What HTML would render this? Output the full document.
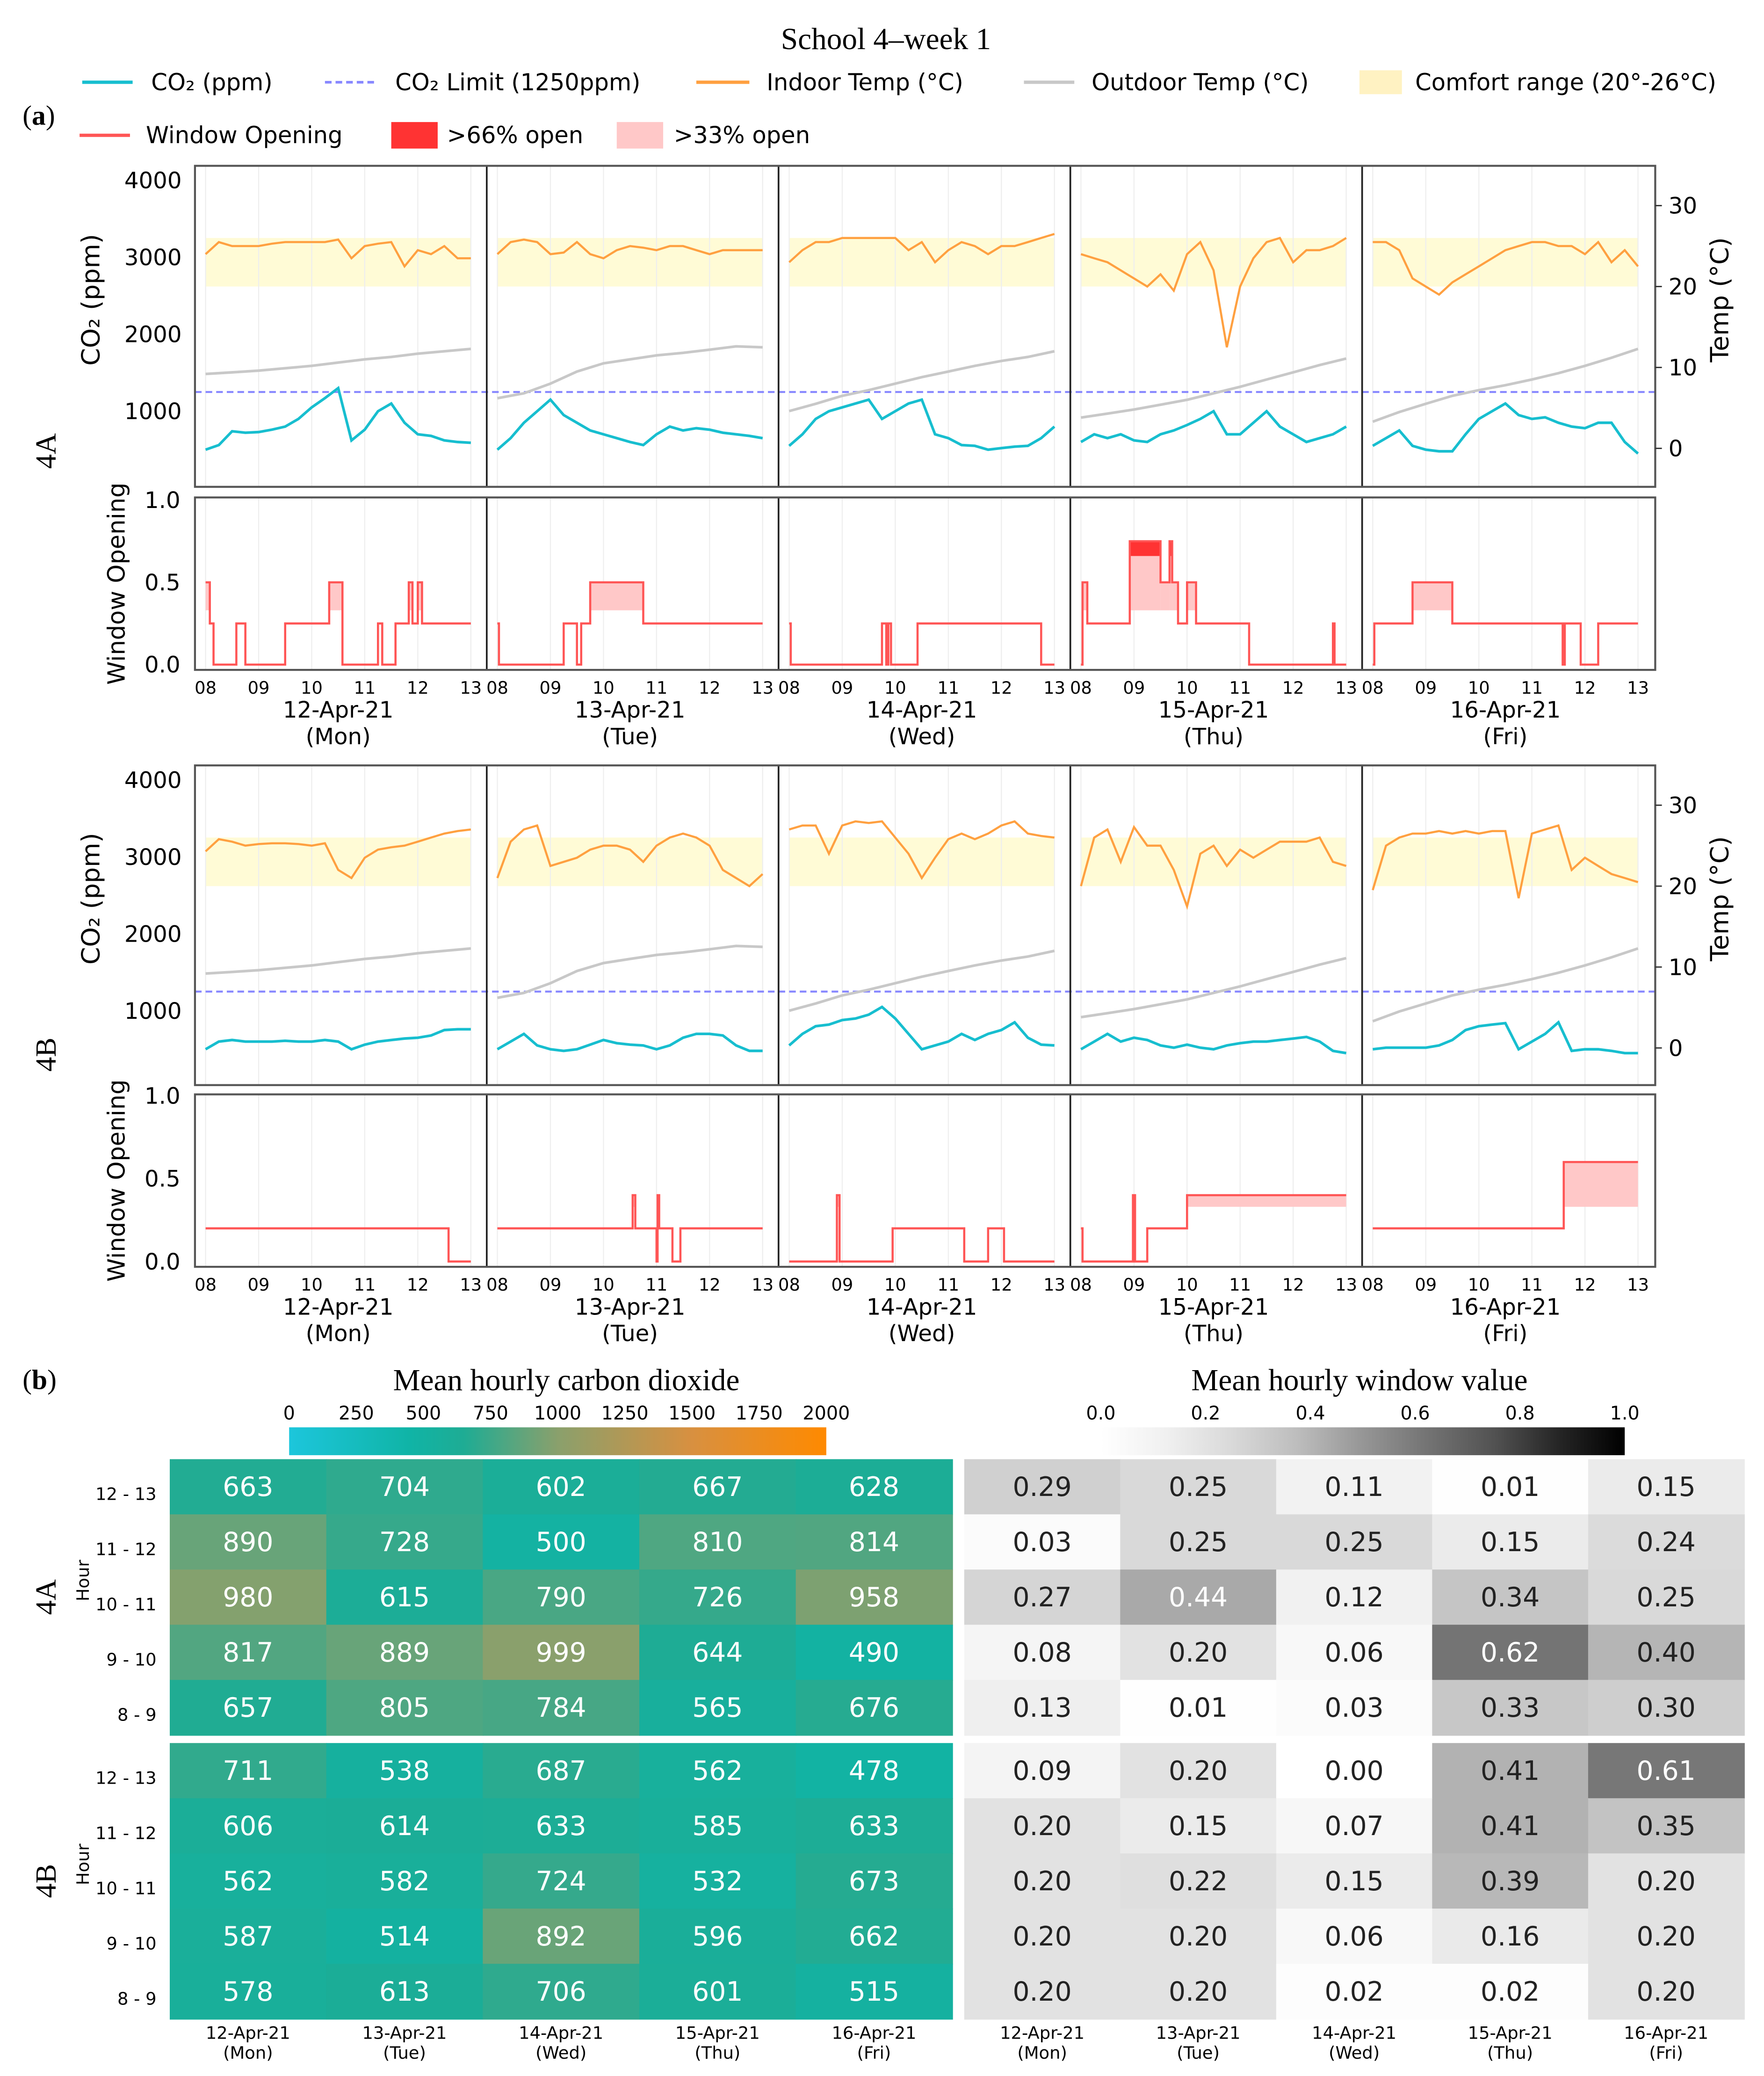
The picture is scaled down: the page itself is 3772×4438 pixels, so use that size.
<!DOCTYPE html>
<html><head><meta charset="utf-8">
<style>
html,body{margin:0;padding:0;background:#fff;}
svg{display:block;}
.sans{font-family:"DejaVu Sans","Liberation Sans",sans-serif;}
.serif{font-family:"Liberation Serif","DejaVu Serif",serif;}
</style></head>
<body>
<svg id="fig" width="3772" height="4438" viewBox="0 0 1330 1565" preserveAspectRatio="none" xmlns="http://www.w3.org/2000/svg">
<text x="668" y="37" text-anchor="middle" class="serif" font-size="23">School 4–week 1</text>
<g id="legend" class="sans" font-size="17.5">
 <g><line x1="62" y1="62" x2="100" y2="62" stroke="#17becf" stroke-width="2.5"/><text x="114" y="68">CO₂ (ppm)</text></g>
 <g><line x1="245" y1="62" x2="285" y2="62" stroke="#8888ff" stroke-width="2" stroke-dasharray="5,3"/><text x="298" y="68">CO₂ Limit (1250ppm)</text></g>
 <g><line x1="525" y1="62" x2="565" y2="62" stroke="#ffa040" stroke-width="2.5"/><text x="578" y="68">Indoor Temp (°C)</text></g>
 <g><line x1="772" y1="62" x2="810" y2="62" stroke="#c8c8c8" stroke-width="2.5"/><text x="823" y="68">Outdoor Temp (°C)</text></g>
 <g><rect x="1025" y="53" width="32" height="18" fill="#fff2c2"/><text x="1067" y="68">Comfort range (20°-26°C)</text></g>
 <g><line x1="60" y1="102" x2="98" y2="102" stroke="#ff5555" stroke-width="2.5"/><text x="110" y="108">Window Opening</text></g>
 <g><rect x="295" y="92" width="35" height="20" fill="#ff3333"/><text x="337" y="108">&gt;66% open</text></g>
 <g><rect x="465" y="92" width="35" height="20" fill="#ffc8c8"/><text x="508" y="108">&gt;33% open</text></g>
</g>
<text x="17" y="94" class="serif" font-size="21">(<tspan font-weight="bold">a</tspan>)</text>
<text x="17" y="1047" class="serif" font-size="21">(<tspan font-weight="bold">b</tspan>)</text>
<g id="plots"></g>
<g id="heat"></g>
</svg>
<script>
// ---------- time series data (15-min samples 08:00..13:00) ----------
const dayLabels = ["12-Apr-21","13-Apr-21","14-Apr-21","15-Apr-21","16-Apr-21"];
const dayNames = ["(Mon)","(Tue)","(Wed)","(Thu)","(Fri)"];
const hourTicks = ["08","09","10","11","12","13"];
const co2A = [
 [500,560,740,720,730,760,800,900,1050,1170,1300,620,760,1000,1100,850,700,680,620,600,590],
 [500,650,850,1000,1150,950,850,750,700,650,600,560,700,800,750,780,760,720,700,680,650],
 [550,700,900,1000,1050,1100,1150,900,1000,1100,1150,700,650,560,550,500,520,540,550,650,800],
 [600,700,650,700,620,600,700,750,820,900,1000,700,700,850,1000,800,700,600,650,700,800],
 [550,650,750,550,500,480,480,700,900,1000,1100,950,900,920,850,800,780,850,850,600,450]];
const tinA = [
 [24,25.5,25,25,25,25.3,25.5,25.5,25.5,25.5,25.8,23.5,25,25.3,25.5,22.5,24.5,24,25,23.5,23.5],
 [24,25.5,25.8,25.5,24,24.2,25.5,24,23.5,24.5,25,24.8,24.5,25,25,24.5,24,24.5,24.5,24.5,24.5],
 [23,24.5,25.5,25.5,26,26,26,26,26,24.5,25.5,23,24.5,25.5,25,24,25,25,25.5,26,26.5],
 [24,23.5,23,22,21,20,21.5,19.5,24,25.5,22,12.5,20,23.5,25.5,26,23,24.5,24.5,25,26],
 [25.5,25.5,24.5,21,20,19,20.5,21.5,22.5,23.5,24.5,25,25.5,25.5,25,25,24,25.5,23,24.5,22.5]];
const co2B = [
 [500,600,620,600,600,600,610,600,600,620,600,500,560,600,620,640,650,680,750,760,760],
 [500,600,700,550,500,480,500,560,620,580,560,550,500,550,650,700,700,680,550,480,480],
 [550,700,800,820,880,900,950,1050,900,700,500,550,600,700,620,700,750,850,650,560,550],
 [500,600,700,600,650,620,550,520,560,520,500,550,580,600,600,620,640,660,600,480,450],
 [500,520,520,520,520,550,620,750,800,820,840,500,600,700,850,480,500,500,480,450,450]];
const tinB = [
 [24.3,25.8,25.5,25,25.2,25.3,25.3,25.2,25,25.3,22,21,23.5,24.5,24.8,25,25.5,26,26.5,26.8,27],
 [21,25.5,27,27.5,22.5,23,23.5,24.5,25,25,24.5,23,25,26,26.5,26,25,22,21,20,21.5],
 [27,27.5,27.5,24,27.5,28,27.8,28,26,24,21,23.5,25.8,26.5,25.8,26.5,27.5,28,26.5,26.2,26],
 [20,26,27,23,27.3,25,25,22,17.5,24,25,22.5,24.5,23.5,24.5,25.5,25.5,25.5,26,23,22.5],
 [19.5,25,26,26.5,26.5,26.8,26.5,26.8,26.5,26.8,26.8,18.5,26.5,27,27.5,22,23.5,22.5,21.5,21,20.5]];
// outdoor temp (30-min samples)
const tout = [
 [9.2,9.4,9.6,9.9,10.2,10.6,11,11.3,11.7,12,12.3],
 [6.2,6.8,8,9.5,10.5,11,11.5,11.8,12.2,12.6,12.5],
 [4.6,5.5,6.5,7.2,8,8.8,9.5,10.2,10.8,11.3,12],
 [3.8,4.3,4.8,5.4,6,6.8,7.6,8.5,9.4,10.3,11.1],
 [3.3,4.5,5.5,6.5,7.2,7.8,8.5,9.3,10.2,11.2,12.3]];
// window step series: change times (hours) and values
const winTA = [
 [8,8.08,8.15,8.58,8.75,9.5,10.33,10.58,11.25,11.33,11.58,11.83,11.9,12,12.08,13],
 [8,8.03,9.25,9.5,9.58,9.75,10.75,13],
 [8,8.03,9.75,9.83,9.87,9.92,10.42,12.75,13],
 [8,8.03,8.12,8.92,9.5,9.67,9.72,9.83,10,10.17,11.17,12.75,12.78,13],
 [8,8.03,8.75,9.5,11.58,11.62,11.92,12.25,13]];
const winVA = [
 [0.5,0.25,0,0.25,0,0.25,0.5,0,0.25,0,0.25,0.5,0.25,0.5,0.25,0.25],
 [0.25,0,0.25,0,0.25,0.5,0.25,0.25],
 [0.25,0,0.25,0,0.25,0,0.25,0,0],
 [0,0.5,0.25,0.75,0.5,0.75,0.5,0.25,0.5,0.25,0,0.25,0,0],
 [0,0.25,0.5,0.25,0,0.25,0,0.25,0.25]];
const winTB = [
 [8,12.58,13],
 [8,10.55,10.6,11,11.02,11.05,11.1,11.3,11.45,13],
 [8,8.9,8.95,9.95,11.3,11.75,12.05,13],
 [8,8.03,8.98,9.02,9.25,10,13],
 [8,11.6,13]];
const winVB = [
 [0.2,0,0],
 [0.2,0.4,0.2,0,0.4,0.2,0.2,0,0.2,0.2],
 [0,0.4,0,0.2,0,0.2,0,0],
 [0.2,0,0.4,0,0.2,0.4,0.4],
 [0.2,0.6,0.6]];

// ---------- heatmap data (rows top->bottom: 12-13 .. 8-9) ----------
const hourRows = ["12 - 13","11 - 12","10 - 11","9 - 10","8 - 9"];
const heatCo2A = [[663,704,602,667,628],[890,728,500,810,814],[980,615,790,726,958],[817,889,999,644,490],[657,805,784,565,676]];
const heatCo2B = [[711,538,687,562,478],[606,614,633,585,633],[562,582,724,532,673],[587,514,892,596,662],[578,613,706,601,515]];
const heatWinA = [[0.29,0.25,0.11,0.01,0.15],[0.03,0.25,0.25,0.15,0.24],[0.27,0.44,0.12,0.34,0.25],[0.08,0.20,0.06,0.62,0.40],[0.13,0.01,0.03,0.33,0.30]];
const heatWinB = [[0.09,0.20,0.00,0.41,0.61],[0.20,0.15,0.07,0.41,0.35],[0.20,0.22,0.15,0.39,0.20],[0.20,0.20,0.06,0.16,0.20],[0.20,0.20,0.02,0.02,0.20]];
const co2BarTicks = [0,250,500,750,1000,1250,1500,1750,2000];
const winBarTicks = ["0.0","0.2","0.4","0.6","0.8","1.0"];

const NS = "http://www.w3.org/2000/svg";
function mk(parent, tag, attrs, text){
  const e = document.createElementNS(NS, tag);
  for (const k in attrs) e.setAttribute(k, attrs[k]);
  if (text !== undefined) e.textContent = text;
  parent.appendChild(e);
  return e;
}
const plots = document.getElementById("plots");
const X0 = 147, PW = 220, X1 = 1248;
function hx(i, h){ return X0 + PW*i + 8 + 40*(h-8); }

function drawGroup(cfg){
  const g = mk(plots, "g", {});
  
  
  const co2Y = v => cfg.c0 - v*0.058;
  const tY = t => cfg.t0 - t*6.1;
  const wY = v => cfg.w0 - v*cfg.ws;
  for (let i=0;i<5;i++){
    const band = mk(g,"rect",{x:hx(i,8),y:tY(26),width:200,height:tY(20)-tY(26),fill:"#fffbd6"});
    
    
    for (let h=8; h<=13; h++){
      mk(g,"line",{x1:hx(i,h),x2:hx(i,h),y1:cfg.top,y2:cfg.bot,stroke:"#eeeeee","stroke-width":0.8});
      mk(g,"line",{x1:hx(i,h),x2:hx(i,h),y1:cfg.wtop,y2:cfg.wbot,stroke:"#eeeeee","stroke-width":0.8});
      const tl = mk(g,"text",{x:hx(i,h),y:cfg.wbot+18,"text-anchor":"middle","font-size":13,"class":"sans"},hourTicks[h-8]);
      
      
    }
    const d1 = mk(g,"text",{x:X0+PW*i+108,y:cfg.wbot+36,"text-anchor":"middle","font-size":17,"class":"sans"},dayLabels[i]);
    
    
    const d2 = mk(g,"text",{x:X0+PW*i+108,y:cfg.wbot+56,"text-anchor":"middle","font-size":17,"class":"sans"},dayNames[i]);
    
    
  }
  const lim = mk(g,"line",{x1:X0,x2:X1,y1:co2Y(1250),y2:co2Y(1250),stroke:"#8888ff","stroke-width":1.5,"stroke-dasharray":"5,3"});
  
  
  for (let i=0;i<5;i++){
    let p = tout[i].map((v,k)=>hx(i,8+k*0.5).toFixed(1)+","+tY(v).toFixed(1)).join(" ");
    const o = mk(g,"polyline",{points:p,fill:"none",stroke:"#c8c8c8","stroke-width":2});
    
    
    p = cfg.tin[i].map((v,k)=>hx(i,8+k*0.25).toFixed(1)+","+tY(v).toFixed(1)).join(" ");
    const ti = mk(g,"polyline",{points:p,fill:"none",stroke:"#ffa040","stroke-width":1.6});
    
    
    p = cfg.co2[i].map((v,k)=>hx(i,8+k*0.25).toFixed(1)+","+co2Y(v).toFixed(1)).join(" ");
    const c = mk(g,"polyline",{points:p,fill:"none",stroke:"#17becf","stroke-width":2});
    
    
    const T = cfg.wt[i], V = cfg.wv[i];
    let pts = [];
    for (let k=0;k<T.length-1;k++){
      const xa = hx(i,T[k]), xb = hx(i,T[k+1]), v = V[k];
      if (v > 0.33){
        const f = mk(g,"rect",{x:xa,y:wY(Math.min(v,0.66)),width:xb-xa,height:wY(0.33)-wY(Math.min(v,0.66)),fill:"#ffc8c8"});
        
        
      }
      if (v > 0.66){
        const f2 = mk(g,"rect",{x:xa,y:wY(v),width:xb-xa,height:wY(0.66)-wY(v),fill:"#ff3333"});
        
        
      }
      pts.push(xa+","+wY(v), xb+","+wY(v));
    }
    const w = mk(g,"polyline",{points:pts.join(" "),fill:"none",stroke:"#ff5555","stroke-width":1.6});
    
    
    if (i>0){
      mk(g,"line",{x1:X0+PW*i,x2:X0+PW*i,y1:cfg.top,y2:cfg.bot,stroke:"#222","stroke-width":1.3});
      mk(g,"line",{x1:X0+PW*i,x2:X0+PW*i,y1:cfg.wtop,y2:cfg.wbot,stroke:"#222","stroke-width":1.3});
    }
  }
  const f1 = mk(g,"rect",{x:X0,y:cfg.top,width:X1-X0,height:cfg.bot-cfg.top,fill:"none",stroke:"#555","stroke-width":1.5});
  
  
  const f2 = mk(g,"rect",{x:X0,y:cfg.wtop,width:X1-X0,height:cfg.wbot-cfg.wtop,fill:"none",stroke:"#555","stroke-width":1.5});
  
  
  [1000,2000,3000,4000].forEach(v=>{
    const t = mk(g,"text",{x:137,y:co2Y(v)+6,"text-anchor":"end","font-size":17,"class":"sans"},String(v));
    
    
  });
  [0,10,20,30].forEach(v=>{
    mk(g,"line",{x1:X1,x2:X1+5,y1:tY(v),y2:tY(v),stroke:"#333"});
    const t = mk(g,"text",{x:1258,y:tY(v)+6,"font-size":17,"class":"sans"},String(v));
    
    
  });
  ["0.0","0.5","1.0"].forEach((s,k)=>{
    const t = mk(g,"text",{x:136,y:wY(k*0.5)+6,"text-anchor":"end","font-size":17,"class":"sans"},s);
    
    
  });
  const yt = mk(g,"text",{x:0,y:0,"text-anchor":"middle","font-size":19,"class":"sans",transform:`translate(75 ${(cfg.top+cfg.bot)/2-20}) rotate(-90)`},"CO₂ (ppm)");
  
  
  const tt = mk(g,"text",{x:0,y:0,"text-anchor":"middle","font-size":19,"class":"sans",transform:`translate(1303 ${(cfg.top+cfg.bot)/2-20}) rotate(-90)`},"Temp (°C)");
  
  
  const wt = mk(g,"text",{x:0,y:0,"text-anchor":"middle","font-size":18,"class":"sans",transform:`translate(94 ${(cfg.wtop+cfg.wbot)/2}) rotate(-90)`},"Window Opening");
  
  
  const rl = mk(g,"text",{x:0,y:0,"text-anchor":"middle","font-size":22,"class":"serif",transform:`translate(42 ${cfg.rowY}) rotate(-90)`},cfg.label);
  
  
}
drawGroup({name:"classroom-4a-plots",label:"4A",rowY:340,top:125,bot:367,c0:368,t0:338,wtop:375,wbot:505,w0:501,ws:124,co2:co2A,tin:tinA,wt:winTA,wv:winVA});
drawGroup({name:"classroom-4b-plots",label:"4B",rowY:795,top:577,bot:818,c0:820,t0:790,wtop:825,wbot:955,w0:951,ws:125,co2:co2B,tin:tinB,wt:winTB,wv:winVB});

// ---------- heatmaps ----------
const heat = document.getElementById("heat");
const co2Stops = [[0,[28,198,220]],[450,[16,180,166]],[650,[30,172,148]],[1000,[138,160,108]],[1500,[216,144,64]],[2000,[255,138,0]]];
function co2Color(v){
  for (let k=0;k<co2Stops.length-1;k++){
    const [a,ca]=co2Stops[k],[b,cb]=co2Stops[k+1];
    if (v<=b){ const t=(v-a)/(b-a); return "rgb("+ca.map((c,j)=>Math.round(c+(cb[j]-c)*t)).join(",")+")"; }
  }
  return "rgb(255,138,0)";
}
const greyStops = [[0,255],[0.125,240],[0.25,217],[0.375,189],[0.5,150],[0.625,115],[0.75,82],[0.875,37],[1,0]];
function winColor(v){
  let g = 0;
  for (let k=0;k<greyStops.length-1;k++){
    const [a,ga]=greyStops[k],[b,gb]=greyStops[k+1];
    if (v<=b){ g = Math.round(ga+(gb-ga)*(v-a)/(b-a)); break; }
  }
  return `rgb(${g},${g},${g})`;
}
let t = mk(heat,"text",{x:427,y:1048,"text-anchor":"middle","font-size":23,"class":"serif"},"Mean hourly carbon dioxide");


t = mk(heat,"text",{x:1025,y:1048,"text-anchor":"middle","font-size":23,"class":"serif"},"Mean hourly window value");


const defs = mk(heat,"defs",{});
const g1 = mk(defs,"linearGradient",{id:"gc",x1:0,x2:1,y1:0,y2:0});
co2Stops.forEach(s=>mk(g1,"stop",{offset:s[0]/2000,"stop-color":co2Color(s[0])}));
const g2 = mk(defs,"linearGradient",{id:"gw",x1:0,x2:1,y1:0,y2:0});
greyStops.forEach(s=>mk(g2,"stop",{offset:s[0],"stop-color":winColor(s[0])}));
let cb = mk(heat,"rect",{x:218,y:1076,width:405,height:21,fill:"url(#gc)"});


cb = mk(heat,"rect",{x:830,y:1076,width:395,height:21,fill:"url(#gw)"});


co2BarTicks.forEach(v=>{
  const x = 218 + v/2000*405;
  const l = mk(heat,"text",{x:x,y:1070,"text-anchor":"middle","font-size":14,"class":"sans"},String(v));
  
  
});
winBarTicks.forEach(s=>{
  const x = 830 + parseFloat(s)*395;
  const l = mk(heat,"text",{x:x,y:1070,"text-anchor":"middle","font-size":14,"class":"sans"},s);
  
  
});
function drawHeat(data, x0, cw, y0, rh, colorFn, fmt, textFn, name){
  for (let r=0;r<5;r++) for (let c=0;c<5;c++){
    const v = data[r][c];
    const cell = mk(heat,"rect",{x:x0+c*cw,y:y0+r*rh,width:cw+0.5,height:rh+0.5,fill:colorFn(v)});
    
    
    const tx = mk(heat,"text",{x:x0+c*cw+cw/2,y:y0+r*rh+rh/2+7,"text-anchor":"middle","font-size":20,"class":"sans",fill:textFn(v)},fmt(v));
    
    
  }
}
const rh = 41.6;
drawHeat(heatCo2A,128,118,1100,rh,co2Color,v=>String(v),()=>"#fff","co2-4a");
drawHeat(heatCo2B,128,118,1314,rh,co2Color,v=>String(v),()=>"#fff","co2-4b");
drawHeat(heatWinA,727,117.6,1100,rh,winColor,v=>v.toFixed(2),v=>v>=0.43?"#fff":"#222","window-4a");
drawHeat(heatWinB,727,117.6,1314,rh,winColor,v=>v.toFixed(2),v=>v>=0.43?"#fff":"#222","window-4b");
[1100,1314].forEach((y0,gi)=>{
  hourRows.forEach((s,r)=>{
    const l = mk(heat,"text",{x:118,y:y0+r*rh+rh/2+10,"text-anchor":"end","font-size":13,"class":"sans"},s);
    
    
  });
  const h = mk(heat,"text",{x:0,y:0,"text-anchor":"middle","font-size":13,"class":"sans",transform:`translate(67 ${y0+rh*2.2}) rotate(-90)`},"Hour");
  
  
  const lab = mk(heat,"text",{x:0,y:0,"text-anchor":"middle","font-size":22,"class":"serif",transform:`translate(42 ${y0+rh*2.5}) rotate(-90)`},gi?"4B":"4A");
  
  
});
[[128,118],[727,117.6]].forEach(([x0,cw])=>{
  for (let c=0;c<5;c++){
    const a = mk(heat,"text",{x:x0+c*cw+cw/2,y:1537,"text-anchor":"middle","font-size":13,"class":"sans"},dayLabels[c]);
    
    
    const b = mk(heat,"text",{x:x0+c*cw+cw/2,y:1552,"text-anchor":"middle","font-size":13,"class":"sans"},dayNames[c]);
    
    
  }
});
</script>
</body></html>
